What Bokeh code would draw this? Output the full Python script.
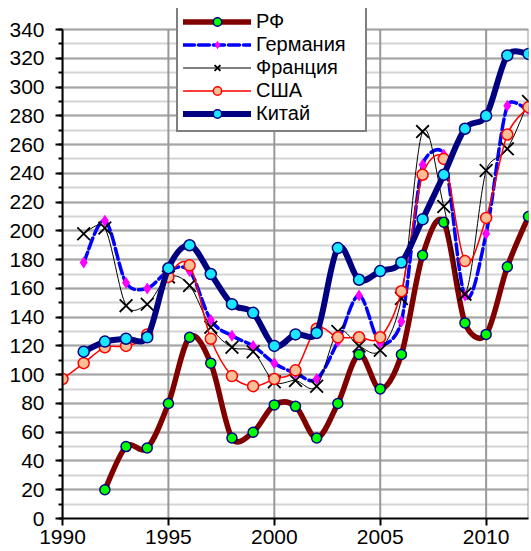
import math
from bokeh.plotting import figure
from bokeh.models import Legend, LegendItem, FixedTicker, Range1d
from bokeh.embed import file_html
from bokeh.resources import INLINE

years_rf = list(range(1992, 2013))
rf = [20, 50, 49, 80, 126, 108, 56, 60, 79, 78, 56, 80, 114, 90, 114, 183, 206, 136, 128, 175, 210]

years_de = list(range(1991, 2013))
de = [178, 207, 164, 160, 172, 172, 138, 127, 120, 108, 101, 97, 123, 155, 122, 137, 246, 253, 155, 198, 287, 284]

years_fr = list(range(1991, 2013))
fr = [198, 202, 148, 149, 168, 162, 133, 119, 116, 95, 96, 92, 130, 120, 117, 153, 269, 217, 156, 242, 257, 290]

years_us = list(range(1990, 2013))
us = [97, 108, 119, 120, 128, 168, 176, 125, 99, 92, 97, 103, 132, 126, 126, 126, 158, 239, 250, 179, 209, 267, 286]

years_cn = list(range(1991, 2013))
cn = [116, 123, 125, 126, 174, 190, 170, 149, 143, 120, 128, 129, 188, 166, 172, 178, 208, 239, 271, 280, 322, 323]

names = ["РФ", "Германия", "Франция", "США", "Китай"]
x_ticks = [1990, 1995, 2000, 2005, 2010]
y_ticks = list(range(0, 341, 20))
y_minor = list(range(0, 341, 10))

FONT = "Liberation Sans"
X0, X1, Y0, Y1 = 1990, 2012, 0, 340
TOP_PX = 21                      # extra room above the 340 line (for the legend)
FW, FH = 466, 489                # size of the 0..340 plot box in px
Y1_VIEW = Y1 + TOP_PX * (Y1 - Y0) / FH

p = figure(width=531, height=551, output_backend="svg", toolbar_location=None,
           x_range=Range1d(X0, X1), y_range=Range1d(Y0, Y1_VIEW),
           min_border_left=62, min_border_right=3, min_border_top=29 - TOP_PX,
           min_border_bottom=33)
p.background_fill_color = "white"
p.border_fill_color = "white"
p.outline_line_color = None

p.xaxis.ticker = FixedTicker(ticks=x_ticks)
p.yaxis.ticker = FixedTicker(ticks=y_ticks, minor_ticks=y_minor)
p.yaxis.bounds = (Y0, Y1)
for ax in (p.xaxis[0], p.yaxis[0]):
    ax.axis_line_color = "black"
    ax.axis_line_width = 2
    ax.major_tick_line_color = "black"
    ax.major_tick_line_width = 2
    ax.major_tick_out = 7
    ax.major_tick_in = 0
    ax.major_label_text_font = FONT
    ax.major_label_text_font_size = "21px"
    ax.major_label_text_color = "black"
p.xaxis.minor_tick_line_color = None
p.xaxis.major_label_standoff = 4
p.yaxis.minor_tick_line_color = "black"
p.yaxis.minor_tick_line_width = 2
p.yaxis.minor_tick_out = 4
p.yaxis.minor_tick_in = 0
p.yaxis.major_label_standoff = 11

# horizontal grid (0..340)
p.xgrid.visible = False
p.ygrid.ticker = FixedTicker(ticks=y_ticks, minor_ticks=y_minor)
p.ygrid.grid_line_color = "#a6a6a6"
p.ygrid.grid_line_width = 2
p.ygrid.minor_grid_line_color = "#d4d4d4"
p.ygrid.minor_grid_line_width = 2
# vertical grid lines + right border, limited to 0..340
vx = x_ticks + [X1]
p.segment(x0=vx, y0=[Y0] * len(vx), x1=vx, y1=[Y1] * len(vx),
          line_color="#999999", line_width=2)

SX = FW / (X1 - X0)
SY = FH / (Y1 - Y0)


def arm(pa, pb, seg_len):
    # Excel-like smoothing: tangent arm of 1/6 of neighbour chord, capped at half the segment
    dx, dy = (pb[0] - pa[0]) / 6.0, (pb[1] - pa[1]) / 6.0
    L = math.hypot(dx * SX, dy * SY)
    if L > seg_len / 2 and L > 0:
        k = (seg_len / 2) / L
        dx, dy = dx * k, dy * k
    return dx, dy


def smooth_segments(xs, ys):
    n = len(xs)
    pts = list(zip(xs, ys))
    seg = dict(x0=[], y0=[], x1=[], y1=[], cx0=[], cy0=[], cx1=[], cy1=[])
    for i in range(n - 1):
        p0 = pts[max(i - 1, 0)]
        p1 = pts[i]
        p2 = pts[i + 1]
        p3 = pts[min(i + 2, n - 1)]
        d12 = math.hypot((p2[0] - p1[0]) * SX, (p2[1] - p1[1]) * SY)
        a1 = arm(p0, p2, d12)
        a2 = arm(p1, p3, d12)
        seg["x0"].append(p1[0]); seg["y0"].append(p1[1])
        seg["x1"].append(p2[0]); seg["y1"].append(p2[1])
        seg["cx0"].append(p1[0] + a1[0]); seg["cy0"].append(p1[1] + a1[1])
        seg["cx1"].append(p2[0] - a2[0]); seg["cy1"].append(p2[1] - a2[1])
    return seg


series = [
    dict(x=years_rf, y=rf, lc="#800000", lw=5.5, dash="solid",
         marker="circle", size=10, fill="#00ff00", mline="#000080", mlw=1.5),
    dict(x=years_de, y=de, lc="#0000ff", lw=3.5, dash="11 4",
         marker="diamond", size=12, fill="#ff00ff", mline=None, mlw=0),
    dict(x=years_fr, y=fr, lc="black", lw=1, dash="solid",
         marker="x", size=18, fill=None, mline="black", mlw=1.8),
    dict(x=years_us, y=us, lc="#ff0000", lw=1.5, dash="solid",
         marker="circle", size=11, fill="#fbbf95", mline="#ff0000", mlw=1.5),
    dict(x=years_cn, y=cn, lc="#000080", lw=6, dash="solid",
         marker="circle", size=11, fill="#19e6ff", mline="#000080", mlw=1.5),
]

items = []
for name, s in zip(names, series):
    seg = smooth_segments(s["x"], s["y"])
    p.bezier(x0=seg["x0"], y0=seg["y0"], x1=seg["x1"], y1=seg["y1"],
             cx0=seg["cx0"], cy0=seg["cy0"], cx1=seg["cx1"], cy1=seg["cy1"],
             line_color=s["lc"], line_width=s["lw"], line_dash=s["dash"], line_cap="round")
    sc = p.scatter(s["x"], s["y"], marker=s["marker"], size=s["size"],
                   fill_color=s["fill"], line_color=s["mline"], line_width=s["mlw"])
    # single-point line: draws nothing in the plot, only supplies the legend sample
    lr = p.line(s["x"][:1], s["y"][:1], line_color=s["lc"], line_width=s["lw"],
                line_dash=s["dash"], line_cap="round")
    items.append(LegendItem(label=name, renderers=[lr, sc]))

legend = Legend(items=items, location=(114, 386), margin=0, padding=5,
                glyph_width=68, glyph_height=21, label_height=21, spacing=0,
                label_standoff=5, label_width=104,
                label_text_font=FONT, label_text_font_size="20px", label_text_color="black",
                border_line_color="black", border_line_width=2,
                background_fill_color="white", background_fill_alpha=1)
p.add_layout(legend, "center")

open("out.html", "w").write(file_html(p, INLINE))
